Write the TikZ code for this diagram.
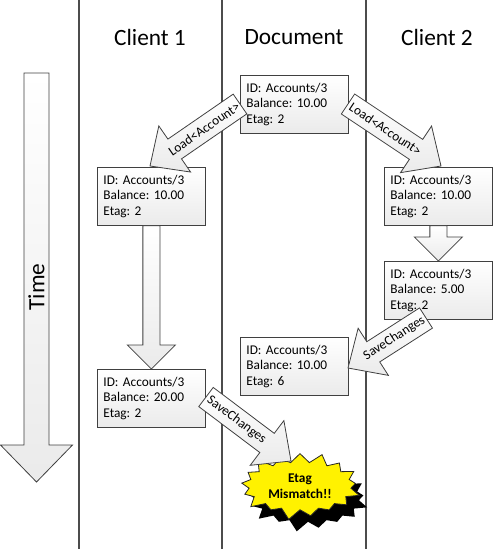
\documentclass[tikz,border=0pt]{standalone}
\usepackage{fontspec}
\setmainfont{Carlito}
\usetikzlibrary{calc}
\usetikzlibrary{positioning}
\usetikzlibrary{shapes}
\usetikzlibrary{shadows}
\frenchspacing

% block arrow: from, to, shaft half width, head half width, head length, label pos, label
\newcommand{\blockarrow}[7]{%
  \coordinate (bA) at (#1);
  \coordinate (bB) at (#2);
  \coordinate (bC) at ($(bB)!#5!(bA)$);
  \draw [blk] ($(bA)!#3!90:(bB)$) -- ($(bC)!#3!90:(bB)$) -- ($(bC)!#4!90:(bB)$)
    -- (bB) -- ($(bC)!#4!-90:(bB)$) -- ($(bC)!#3!-90:(bB)$) -- ($(bA)!#3!-90:(bB)$) -- cycle;
  \path (bA) -- (bC) node [pos=#6, sloped, lbl] {#7};
}

\begin{document}
\begin{tikzpicture}[x=0.75pt, y=-0.75pt,
	lane/.style={draw=black!70, line width=1.4pt},
	hdr/.style={font=\fontsize{17.5}{21}\selectfont},
	rec/.style={rectangle, draw=black!75, line width=0.6pt, top color=white, bottom color=black!8,
		anchor=north west, align=left, text width=72pt, inner xsep=4.5pt, minimum height=43.5pt,
		font=\fontsize{10}{11.6}\selectfont},
	blk/.style={draw=black!75, line width=0.6pt, top color=white, bottom color=black!8},
	lbl/.style={font=\fontsize{10}{12}\selectfont, inner sep=0pt},
	bang/.style={starburst, draw=black!85, fill=yellow, line width=0.6pt, align=center,
		minimum width=60pt, minimum height=42pt, starburst point height=9pt,
		font=\bfseries\fontsize{10}{12}\selectfont,
		drop shadow={shadow xshift=6pt, shadow yshift=-9pt, fill=black, opacity=1}},
]
\useasboundingbox (0,0) rectangle (495,549);
% swim lanes
\draw [lane] (79,0) -- (79,549);
\draw [lane] (222,0) -- (222,549);
\draw [lane] (366,0) -- (366,549);
\node [hdr] (H1) at (150,37) {Client 1};
\node [hdr] (H2) at (294,37) {Document};
\node [hdr] (H3) at (437,37) {Client 2};
%
\coordinate (T0) at (36.5,73);
\coordinate (T1) at (36.5,482);
\blockarrow{T0}{T1}{9.4pt}{27pt}{27.75pt}{0.5}{}
\node [hdr, rotate=90] (time) at (36.5,287) {Time};
%
\node [rec] (D1) at (240,75)  {ID: Accounts/3\\Balance: 10.00\\Etag: 2};
\node [rec] (A1) at (97,167)  {ID: Accounts/3\\Balance: 10.00\\Etag: 2};
\node [rec] (B1) at (384,167) {ID: Accounts/3\\Balance: 10.00\\Etag: 2};
\node [rec] (B2) at (384,261) {ID: Accounts/3\\Balance: 5.00\\Etag: 2};
\node [rec] (D2) at (240,337) {ID: Accounts/3\\Balance: 10.00\\Etag: 6};
\node [rec] (A2) at (97,369)  {ID: Accounts/3\\Balance: 20.00\\Etag: 2};
\node [bang] (X) at (300,486) {Etag\\Mismatch!!};
%
\blockarrow{A1.south}{A2.north}{6.4pt}{18pt}{18pt}{0.5}{}
\blockarrow{B1.south}{B2.north}{6.4pt}{18pt}{18pt}{0.5}{}
%
\coordinate (L1) at (240,104);
\coordinate (L2) at (348,104);
\coordinate (S1) at (426,318);
\coordinate (S2) at (206,397);
\blockarrow{L1}{150,166}{9pt}{21pt}{22.5pt}{0.55}{Load<Account>}
\blockarrow{L2}{441,166}{9pt}{21pt}{22.5pt}{0.55}{Load<Account>}
\blockarrow{S1}{348,368}{9pt}{21pt}{22.5pt}{0.6}{SaveChanges}
\blockarrow{S2}{291,461}{9pt}{21pt}{22.5pt}{0.5}{SaveChanges}
\end{tikzpicture}
\end{document}
